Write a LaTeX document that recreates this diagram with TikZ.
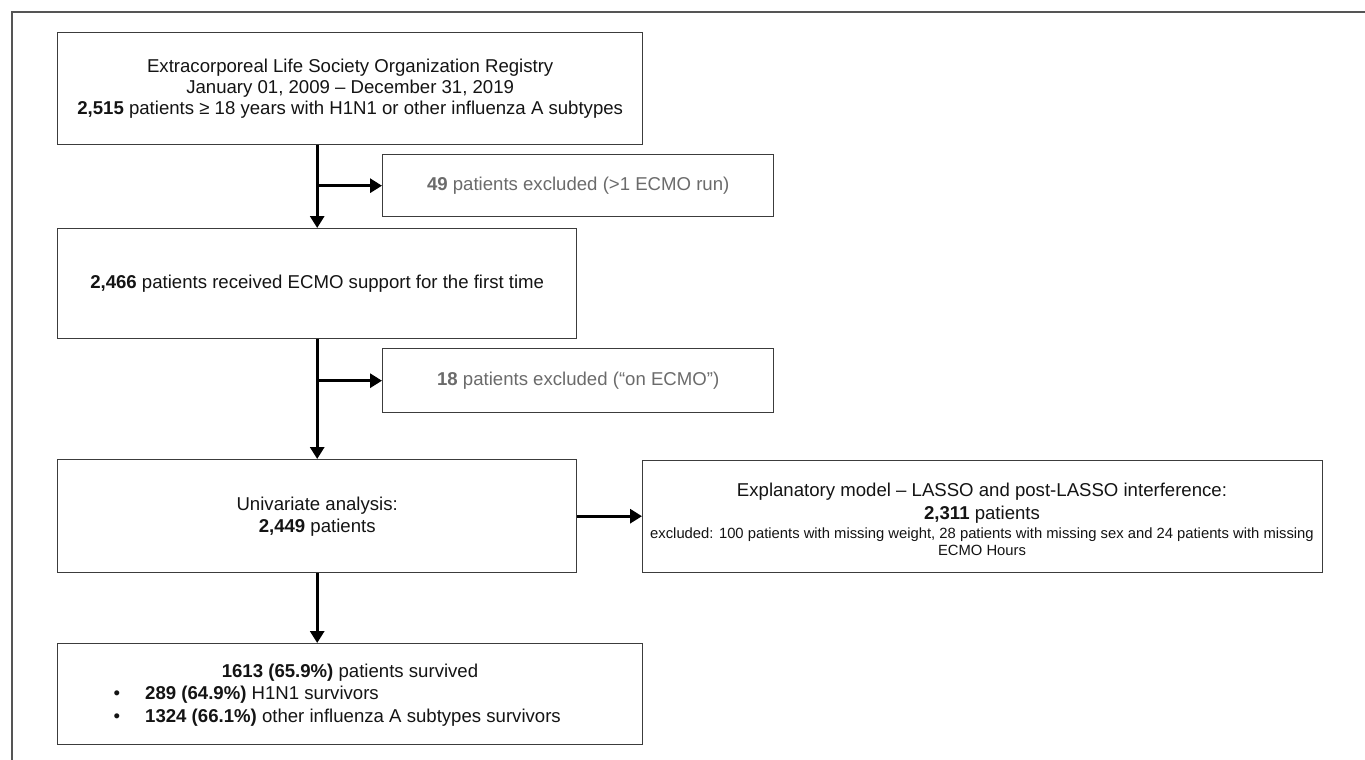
\documentclass[tikz,border=0pt]{standalone}
\usepackage{fontspec}
\setmainfont{Liberation Sans}
\usetikzlibrary{arrows.meta}
\definecolor{boxline}{HTML}{3C3C3C}
\definecolor{frameline}{HTML}{555555}
\definecolor{greytext}{HTML}{6B6B6B}
\definecolor{maintext}{HTML}{141414}
\newcommand\mybig{\fontsize{18.6}{22}\selectfont}
\newcommand\mybigtight{\fontsize{18.6}{21}\selectfont}
\newcommand\mysmall{\fontsize{14.8}{17}\selectfont}
\begin{document}
\begin{tikzpicture}[x=1pt,y=-1pt,
  box/.style={draw=boxline, line width=1.4pt, inner sep=0pt, anchor=north west,
              align=center, font=\mybig, text=maintext},
  exbox/.style={box, text=greytext},
  txt/.style={inner sep=0pt, font=\mybig, text=maintext, anchor=base},
  smalltxt/.style={inner sep=0pt, font=\mysmall, text=maintext, anchor=base},
  arr/.style={line width=3pt, draw=black, -{Triangle[length=12pt,width=14pt]}}
]
\useasboundingbox (0,0) rectangle (1365,760);
\fill[white] (0,0) rectangle (1365,760);
% outer frame (cropped at right and bottom)
\draw[frameline, line width=1.8pt] (1366,12) -- (12,12) -- (12,761);

% boxes
\node[box, font=\mybigtight, minimum width=585pt, minimum height=112pt] (reg) at (57,32)
  {Extracorporeal Life Society Organization Registry\\
   January 01, 2009 – December 31, 2019\\
   \textbf{2,515} patients ≥ 18 years with H1N1 or other influenza A subtypes};
\node[exbox, minimum width=391pt, minimum height=62pt] (ex1) at (382,154)
  {\textbf{49} patients excluded (>1 ECMO run)};
\node[box, minimum width=519pt, minimum height=110pt] (first) at (57,228)
  {\textbf{2,466} patients received ECMO support for the first time};
\node[exbox, minimum width=391pt, minimum height=64pt] (ex2) at (382,348)
  {\textbf{18} patients excluded (“on ECMO”)};
\node[box, minimum width=519pt, minimum height=113pt] (uni) at (57,459)
  {Univariate analysis:\\ \textbf{2,449} patients};
\node[box, minimum width=680pt, minimum height=112pt] (lasso) at (642,460) {};
\node[box, minimum width=585pt, minimum height=101pt] (surv) at (57,643) {};

% texts of the explanatory-model box
\node[txt] (l1) at (982,496.6) {Explanatory model – LASSO and post-LASSO interference:};
\node[txt] (l2) at (982,519.6) {\textbf{2,311} patients};
\node[smalltxt] (l3) at (982,538.3) {excluded: 100 patients with missing weight, 28 patients with missing sex and 24 patients with missing};
\node[smalltxt] (l4) at (982,555.3) {ECMO Hours};

% texts of the survivors box
\node[txt] (s1) at (350,677.6) {\textbf{1613 (65.9\%)} patients survived};
\node[txt] (b1) at (117,699.6) {•};
\node[txt, anchor=base west] (s2) at (145,699.6) {\textbf{289 (64.9\%)} H1N1 survivors};
\node[txt] (b2) at (117,722.6) {•};
\node[txt, anchor=base west] (s3) at (145,722.6) {\textbf{1324 (66.1\%)} other influenza A subtypes survivors};

% connectors
\coordinate (top1) at (reg.south -| first.north);
\coordinate (j1) at (first.north |- ex1.west);
\draw[arr] (top1) -- (first.north);
\draw[arr] (j1) -- (ex1.west);

\coordinate (j2) at (first.south |- ex2.west);
\draw[arr] (first.south) -- (uni.north);
\draw[arr] (j2) -- (ex2.west);

\draw[arr] (uni.east) -- (uni.east -| lasso.west);
\draw[arr] (uni.south) -- (uni.south |- surv.north);
\end{tikzpicture}
\end{document}
